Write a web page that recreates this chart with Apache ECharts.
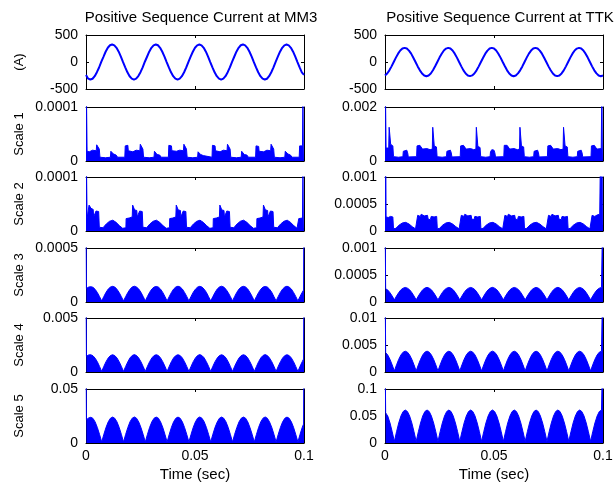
<!DOCTYPE html>
<html>
<head>
<meta charset="utf-8">
<script src="https://cdn.jsdelivr.net/npm/echarts@6/dist/echarts.min.js"></script>
<style>
  html, body { margin: 0; background: #fff; }
  #chart { width: 616px; height: 483px; }
</style>
</head>
<body>
<div id="chart"></div>
<script>
// panel titles and row labels
const titles = ['Positive Sequence Current at MM3', 'Positive Sequence Current at TTK'];
const rowNames = ['(A)', 'Scale 1', 'Scale 2', 'Scale 3', 'Scale 4', 'Scale 5'];

// y ranges [min, max, tick step] per row
const yRangeMM3 = [[-500, 500, 500], [0, 1e-4, 1e-4], [0, 1e-4, 1e-4], [0, 5e-4, 5e-4], [0, 5e-3, 5e-3], [0, 0.05, 0.05]];
const yRangeTTK = [[-500, 500, 500], [0, 2e-3, 2e-3], [0, 1e-3, 5e-4], [0, 1e-3, 5e-4], [0, 0.01, 0.005], [0, 0.1, 0.05]];

// sampling times (sec)
function sampleTimes(first, step, n) {
  const t = [];
  for (let i = 0; i < n; i++) t.push(+(first + step * i).toFixed(4));
  return t;
}
const tSine = sampleTimes(0, 0.001, 101);
const tArchMM3 = [0, ...sampleTimes(0.0002, 0.001, 100), 0.0998, 0.1];
const tArchTTK = [0, ...sampleTimes(0.0003, 0.001, 100), 0.0998, 0.1];

// positive sequence current (A), one value per ms
const currentMM3 = [
  -240, -309, -325, -310, -262, -188, -102, 4, 96, 190, 264, 310, 324, 308, 262, 192, 101, -3, -98, -192,
  -263, -307, -326, -309, -261, -189, -100, 5, 97, 191, 263, 309, 325, 310, 263, 190, 99, -2, -100, -191,
  -262, -309, -325, -308, -262, -190, -101, 3, 98, 190, 264, 309, 324, 309, 262, 191, 100, -2, -99, -192,
  -263, -308, -326, -309, -263, -189, -100, 4, 97, 191, 262, 310, 325, 308, 262, 190, 100, -3, -100, -190,
  -262, -309, -325, -310, -262, -190, -99, 3, 98, 191, 263, 309, 324, 309, 263, 191, 99, -2, -101, -191,
  -240
];
const currentTTK = [
  -249, -212, -154, -81, 0, 81, 154, 212, 249, 261, 249, 211, 155, 80, 1, -82, -154, -212, -250, -263,
  -249, -213, -153, -80, 1, 82, 153, 212, 248, 262, 249, 212, 154, 81, -1, -81, -155, -213, -249, -262,
  -248, -212, -154, -81, 0, 80, 154, 211, 249, 261, 250, 212, 153, 81, 0, -80, -154, -212, -249, -263,
  -249, -211, -154, -82, 1, 81, 155, 212, 249, 262, 249, 211, 154, 80, 0, -81, -153, -212, -250, -262,
  -249, -212, -155, -81, 0, 81, 154, 213, 248, 262, 249, 212, 154, 82, 1, -81, -154, -211, -249, -263,
  -249
];

// Scale 1 / Scale 2 detail magnitudes as [time, value], MM3 in 1e-5, TTK in 1e-4
const mm3Scale1 = [
  [0, 20], [0.0003, 20], [0.0005, 1.8], [0.0015, 1.7], [0.0030, 2.0], [0.0047, 1.9], [0.0049, 3.0], [0.0058, 3.1], [0.0061, 2.2], [0.0064, 0.7], [0.0090, 0.6], [0.0112, 0.7], [0.0114, 1.8], [0.0122, 1.9], [0.0126, 1.3], [0.0138, 1.1], [0.0145, 0.7], [0.0178, 0.7], [0.0180, 2.8], [0.0192, 2.9], [0.0194, 1.9],
  [0.0215, 1.7], [0.0230, 2.0], [0.0247, 1.9], [0.0249, 3.1], [0.0258, 3.1], [0.0261, 2.2], [0.0264, 0.7], [0.0290, 0.6], [0.0312, 0.7], [0.0314, 1.8], [0.0322, 1.8], [0.0326, 1.2], [0.0338, 1.1], [0.0345, 0.7], [0.0378, 0.7], [0.0380, 2.9], [0.0392, 2.8], [0.0394, 1.9],
  [0.0415, 1.8], [0.0430, 2.0], [0.0447, 1.9], [0.0449, 3.1], [0.0458, 3.2], [0.0461, 2.2], [0.0464, 0.7], [0.0490, 0.6], [0.0512, 0.7], [0.0514, 1.7], [0.0522, 1.8], [0.0526, 1.2], [0.0538, 1.0], [0.0545, 0.7], [0.0578, 0.7], [0.0580, 2.9], [0.0592, 2.8], [0.0594, 1.9],
  [0.0615, 1.7], [0.0630, 2.0], [0.0647, 1.9], [0.0649, 3.1], [0.0658, 3.2], [0.0661, 2.2], [0.0664, 0.7], [0.0690, 0.6], [0.0712, 0.7], [0.0714, 1.8], [0.0722, 1.8], [0.0726, 1.2], [0.0738, 1.1], [0.0745, 0.7], [0.0778, 0.7], [0.0780, 2.8], [0.0792, 2.7], [0.0794, 1.8],
  [0.0815, 1.7], [0.0830, 2.0], [0.0847, 1.9], [0.0849, 3.1], [0.0858, 3.1], [0.0861, 2.2], [0.0864, 0.7], [0.0890, 0.6], [0.0912, 0.7], [0.0914, 1.8], [0.0922, 1.9], [0.0926, 1.3], [0.0938, 1.1], [0.0945, 0.7], [0.0978, 0.7], [0.0980, 2.8], [0.0993, 2.8], [0.0996, 20], [0.1, 20]
];
const mm3Scale2 = [
  [0, 20], [0.0003, 20], [0.0005, 2.3], [0.0012, 2.5], [0.0014, 4.8], [0.0021, 4.8], [0.0023, 4.2], [0.0033, 4.0], [0.0035, 2.6], [0.0044, 2.6], [0.0046, 3.7], [0.0058, 3.6], [0.0061, 0.7], [0.0078, 0.6], [0.0093, 1.3], [0.0108, 1.8], [0.0123, 2.0], [0.0138, 1.6], [0.0153, 1.0], [0.0168, 0.5], [0.0183, 0.6],
  [0.0184, 2.3], [0.0198, 2.4], [0.0212, 2.6], [0.0214, 4.8], [0.0221, 4.8], [0.0223, 3.9], [0.0233, 3.8], [0.0235, 2.6], [0.0244, 2.6], [0.0246, 3.7], [0.0258, 3.6], [0.0261, 0.7], [0.0278, 0.6], [0.0293, 1.3], [0.0308, 1.8], [0.0323, 2.0], [0.0338, 1.6], [0.0353, 1.0], [0.0368, 0.5], [0.0383, 0.6],
  [0.0384, 2.3], [0.0398, 2.4], [0.0412, 2.6], [0.0414, 4.8], [0.0421, 4.7], [0.0423, 3.9], [0.0433, 3.8], [0.0435, 2.6], [0.0444, 2.6], [0.0446, 3.7], [0.0458, 3.6], [0.0461, 0.7], [0.0478, 0.6], [0.0493, 1.3], [0.0508, 1.8], [0.0523, 2.0], [0.0538, 1.6], [0.0553, 1.0], [0.0568, 0.5], [0.0583, 0.6],
  [0.0584, 2.3], [0.0598, 2.4], [0.0612, 2.6], [0.0614, 4.8], [0.0621, 4.8], [0.0623, 3.9], [0.0633, 3.8], [0.0635, 2.6], [0.0644, 2.6], [0.0646, 3.7], [0.0658, 3.6], [0.0661, 0.7], [0.0678, 0.6], [0.0693, 1.3], [0.0708, 1.8], [0.0723, 2.0], [0.0738, 1.6], [0.0753, 1.0], [0.0768, 0.5], [0.0783, 0.6],
  [0.0784, 2.3], [0.0798, 2.4], [0.0812, 2.6], [0.0814, 4.8], [0.0821, 4.8], [0.0823, 3.9], [0.0833, 3.8], [0.0835, 2.6], [0.0844, 2.6], [0.0846, 3.7], [0.0858, 3.6], [0.0861, 0.7], [0.0878, 0.6], [0.0893, 1.3], [0.0908, 1.8], [0.0923, 2.0], [0.0938, 1.6], [0.0953, 1.0], [0.0968, 0.5], [0.0975, 0.6],
  [0.0976, 2.3], [0.0993, 2.4], [0.0996, 20], [0.1, 20]
];
const ttkScale1 = [
  [0, 40], [0.0003, 40], [0.0005, 4.8], [0.0012, 4.6], [0.0017, 4.8], [0.0019, 12.5], [0.0024, 12.5], [0.0026, 6.2], [0.0036, 5.6], [0.0039, 1.6], [0.0062, 1.4], [0.0082, 1.6], [0.0084, 3.6], [0.0090, 4.2], [0.0100, 4.0], [0.0104, 3.0], [0.0107, 1.5], [0.0145, 1.6],
  [0.0147, 5.6], [0.0160, 5.8], [0.0169, 5.4], [0.0172, 4.4], [0.0192, 4.6], [0.0207, 4.2], [0.0217, 4.4], [0.0219, 12.5], [0.0224, 12.5], [0.0226, 5.6], [0.0236, 5.2], [0.0239, 1.6], [0.0262, 1.4], [0.0282, 1.6], [0.0284, 3.6], [0.0290, 4.2], [0.0300, 4.0], [0.0304, 3.0], [0.0307, 1.5], [0.0345, 1.6],
  [0.0347, 5.6], [0.0360, 5.8], [0.0369, 5.2], [0.0372, 4.4], [0.0392, 4.6], [0.0407, 4.2], [0.0417, 4.4], [0.0419, 12.5], [0.0424, 12.5], [0.0426, 5.4], [0.0436, 5.0], [0.0439, 1.6], [0.0462, 1.4], [0.0482, 1.6], [0.0484, 3.4], [0.0490, 4.2], [0.0500, 4.0], [0.0504, 3.0], [0.0507, 1.5], [0.0545, 1.6],
  [0.0547, 5.8], [0.0560, 5.8], [0.0569, 5.4], [0.0572, 4.4], [0.0592, 4.6], [0.0607, 4.2], [0.0617, 4.4], [0.0619, 12.5], [0.0624, 12.5], [0.0626, 5.6], [0.0636, 5.2], [0.0639, 1.6], [0.0662, 1.4], [0.0682, 1.6], [0.0684, 3.6], [0.0690, 4.2], [0.0700, 4.0], [0.0704, 3.0], [0.0707, 1.5], [0.0745, 1.6],
  [0.0747, 5.6], [0.0760, 5.8], [0.0769, 5.4], [0.0772, 4.4], [0.0792, 4.6], [0.0807, 4.2], [0.0817, 4.4], [0.0819, 12.5], [0.0824, 12.5], [0.0826, 5.6], [0.0836, 5.2], [0.0839, 1.6], [0.0862, 1.4], [0.0882, 1.6], [0.0884, 3.6], [0.0890, 4.2], [0.0900, 4.0], [0.0904, 3.0], [0.0907, 1.5], [0.0945, 1.6],
  [0.0947, 5.6], [0.0960, 5.8], [0.0969, 5.4], [0.0972, 4.4], [0.0992, 4.6], [0.0996, 40], [0.1, 40]
];
const ttkScale2 = [
  [0, 40], [0.0003, 40], [0.0005, 2.6], [0.0015, 2.5], [0.0025, 2.7], [0.0036, 2.6], [0.0039, 0.4], [0.0050, 0.5], [0.0065, 1.1], [0.0080, 1.5], [0.0095, 1.6], [0.0110, 1.3], [0.0125, 0.8], [0.0140, 0.4], [0.0147, 0.4],
  [0.0150, 2.9], [0.0158, 3.1], [0.0162, 2.7], [0.0166, 3.1], [0.0175, 3.0], [0.0180, 2.8], [0.0185, 3.1], [0.0195, 2.9], [0.0198, 2.2], [0.0208, 2.1], [0.0212, 2.7], [0.0225, 2.6], [0.0230, 2.8], [0.0237, 2.7], [0.0240, 0.4], [0.0250, 0.5], [0.0265, 1.1], [0.0280, 1.5], [0.0295, 1.6], [0.0310, 1.3], [0.0325, 0.8], [0.0340, 0.4], [0.0347, 0.4],
  [0.0350, 2.9], [0.0358, 3.1], [0.0362, 2.7], [0.0366, 3.1], [0.0375, 3.0], [0.0380, 2.8], [0.0385, 3.1], [0.0395, 2.9], [0.0398, 2.2], [0.0408, 2.1], [0.0412, 2.7], [0.0425, 2.6], [0.0430, 2.8], [0.0437, 2.7], [0.0440, 0.4], [0.0450, 0.5], [0.0465, 1.1], [0.0480, 1.5], [0.0495, 1.6], [0.0510, 1.3], [0.0525, 0.8], [0.0540, 0.4], [0.0547, 0.4],
  [0.0550, 2.9], [0.0558, 3.1], [0.0562, 2.7], [0.0566, 3.1], [0.0575, 3.0], [0.0580, 2.8], [0.0585, 3.1], [0.0595, 2.9], [0.0598, 2.2], [0.0608, 2.1], [0.0612, 2.7], [0.0625, 2.6], [0.0630, 2.8], [0.0637, 2.7], [0.0640, 0.4], [0.0650, 0.5], [0.0665, 1.1], [0.0680, 1.5], [0.0695, 1.6], [0.0710, 1.3], [0.0725, 0.8], [0.0740, 0.4], [0.0747, 0.4],
  [0.0750, 2.9], [0.0758, 3.1], [0.0762, 2.7], [0.0766, 3.1], [0.0775, 3.0], [0.0780, 2.8], [0.0785, 3.1], [0.0795, 2.9], [0.0798, 2.2], [0.0808, 2.1], [0.0812, 2.7], [0.0825, 2.6], [0.0830, 2.8], [0.0837, 2.7], [0.0840, 0.4], [0.0850, 0.5], [0.0865, 1.1], [0.0880, 1.5], [0.0895, 1.6], [0.0910, 1.3], [0.0925, 0.8], [0.0940, 0.4], [0.0947, 0.4],
  [0.0950, 2.9], [0.0958, 3.1], [0.0962, 2.7], [0.0966, 3.0], [0.0975, 3.0], [0.0980, 2.8], [0.0985, 3.1], [0.0993, 2.9], [0.0996, 40], [0.1, 40]
];

// Scale 3-5 detail magnitudes on tArchMM3 / tArchTTK
const mm3Scale3 = [ // x1e-4
  10,
  1.25, 1.38, 1.42, 1.36, 1.17, 0.88, 0.5,
  0.1, 0.52, 0.9, 1.2, 1.38, 1.45, 1.39, 1.18, 0.88, 0.5,
  0.1, 0.5, 0.88, 1.19, 1.39, 1.46, 1.38, 1.2, 0.9, 0.52,
  0.1, 0.52, 0.9, 1.2, 1.38, 1.44, 1.38, 1.19, 0.89, 0.51,
  0.1, 0.51, 0.89, 1.2, 1.39, 1.46, 1.39, 1.2, 0.89, 0.52,
  0.1, 0.52, 0.9, 1.19, 1.38, 1.45, 1.38, 1.19, 0.9, 0.5,
  0.1, 0.5, 0.89, 1.2, 1.39, 1.46, 1.38, 1.18, 0.88, 0.51,
  0.1, 0.52, 0.9, 1.2, 1.38, 1.45, 1.39, 1.2, 0.89, 0.52,
  0.1, 0.51, 0.89, 1.19, 1.38, 1.44, 1.38, 1.19, 0.9, 0.5,
  0.1, 0.52, 0.9, 1.2, 1.39, 1.46, 1.38, 1.2, 0.89, 0.52,
  0.1, 0.52, 0.9,
  1.1, 10
];
const mm3Scale4 = [ // x1e-3
  10,
  1.45, 1.58, 1.6, 1.5, 1.28, 0.95, 0.52,
  0.05, 0.53, 0.96, 1.3, 1.52, 1.6, 1.52, 1.3, 0.96, 0.53,
  0.05, 0.52, 0.95, 1.31, 1.53, 1.61, 1.52, 1.29, 0.95, 0.52,
  0.05, 0.53, 0.96, 1.3, 1.52, 1.6, 1.53, 1.3, 0.96, 0.53,
  0.05, 0.53, 0.97, 1.31, 1.52, 1.6, 1.52, 1.3, 0.95, 0.52,
  0.05, 0.52, 0.96, 1.3, 1.53, 1.61, 1.52, 1.31, 0.96, 0.53,
  0.05, 0.53, 0.96, 1.29, 1.52, 1.6, 1.52, 1.3, 0.96, 0.52,
  0.05, 0.53, 0.95, 1.3, 1.52, 1.6, 1.53, 1.3, 0.95, 0.53,
  0.05, 0.52, 0.96, 1.31, 1.53, 1.61, 1.52, 1.29, 0.96, 0.53,
  0.05, 0.53, 0.96, 1.3, 1.52, 1.6, 1.52, 1.3, 0.96, 0.52,
  0.05, 0.53, 0.96,
  1.2, 10
];
const mm3Scale5 = [ // x1e-2
  10,
  2.15, 2.32, 2.38, 2.28, 1.95, 1.44, 0.8,
  0.1, 0.81, 1.45, 1.96, 2.29, 2.4, 2.29, 1.96, 1.45, 0.81,
  0.1, 0.8, 1.44, 1.97, 2.3, 2.41, 2.29, 1.95, 1.44, 0.8,
  0.1, 0.81, 1.45, 1.96, 2.29, 2.4, 2.3, 1.96, 1.45, 0.81,
  0.1, 0.81, 1.46, 1.97, 2.29, 2.4, 2.29, 1.96, 1.44, 0.8,
  0.1, 0.8, 1.45, 1.96, 2.3, 2.41, 2.29, 1.97, 1.45, 0.81,
  0.1, 0.81, 1.45, 1.95, 2.29, 2.4, 2.29, 1.96, 1.45, 0.8,
  0.1, 0.81, 1.44, 1.96, 2.29, 2.4, 2.3, 1.96, 1.44, 0.81,
  0.1, 0.8, 1.45, 1.97, 2.3, 2.41, 2.29, 1.95, 1.45, 0.81,
  0.1, 0.81, 1.45, 1.96, 2.29, 2.4, 2.29, 1.96, 1.45, 0.8,
  0.1, 0.81, 1.45,
  1.75, 10
];
const ttkScale3 = [ // x1e-4
  20,
  2.45, 2.2, 1.72, 1.1,
  0.4, 1.11, 1.75, 2.26, 2.56, 2.7, 2.56, 2.26, 1.75, 1.11,
  0.4, 1.1, 1.74, 2.27, 2.57, 2.71, 2.56, 2.25, 1.74, 1.1,
  0.4, 1.11, 1.75, 2.26, 2.56, 2.7, 2.57, 2.26, 1.75, 1.11,
  0.4, 1.11, 1.76, 2.27, 2.56, 2.7, 2.56, 2.26, 1.74, 1.1,
  0.4, 1.1, 1.75, 2.26, 2.57, 2.71, 2.56, 2.27, 1.75, 1.11,
  0.4, 1.11, 1.75, 2.25, 2.56, 2.7, 2.56, 2.26, 1.75, 1.1,
  0.4, 1.11, 1.74, 2.26, 2.56, 2.7, 2.57, 2.26, 1.74, 1.11,
  0.4, 1.1, 1.75, 2.27, 2.57, 2.71, 2.56, 2.25, 1.75, 1.11,
  0.4, 1.11, 1.75, 2.26, 2.56, 2.7, 2.56, 2.26, 1.75, 1.1,
  0.4, 1.11, 1.75, 2.26, 2.56, 2.7,
  2.65, 20
];
const ttkScale4 = [ // x1e-3
  20,
  3.6, 3.12, 2.33, 1.3,
  0.2, 1.33, 2.35, 3.15, 3.67, 3.85, 3.67, 3.15, 2.35, 1.33,
  0.2, 1.32, 2.34, 3.16, 3.68, 3.86, 3.67, 3.14, 2.34, 1.32,
  0.2, 1.33, 2.35, 3.15, 3.67, 3.85, 3.68, 3.15, 2.35, 1.33,
  0.2, 1.33, 2.36, 3.16, 3.67, 3.85, 3.67, 3.15, 2.34, 1.32,
  0.2, 1.32, 2.35, 3.15, 3.68, 3.86, 3.67, 3.16, 2.35, 1.33,
  0.2, 1.33, 2.35, 3.14, 3.67, 3.85, 3.67, 3.15, 2.35, 1.32,
  0.2, 1.33, 2.34, 3.15, 3.67, 3.85, 3.68, 3.15, 2.34, 1.33,
  0.2, 1.32, 2.35, 3.16, 3.68, 3.86, 3.67, 3.14, 2.35, 1.33,
  0.2, 1.33, 2.35, 3.15, 3.67, 3.85, 3.67, 3.15, 2.35, 1.32,
  0.2, 1.33, 2.35, 3.15, 3.67, 3.85,
  3.8, 20
];
const ttkScale5 = [ // x1e-2
  20,
  5.6, 4.95, 3.7, 2.08,
  0.3, 2.09, 3.71, 4.99, 5.82, 6.1, 5.82, 4.99, 3.71, 2.09,
  0.3, 2.08, 3.7, 5.0, 5.83, 6.11, 5.82, 4.98, 3.7, 2.08,
  0.3, 2.09, 3.71, 4.99, 5.82, 6.1, 5.83, 4.99, 3.71, 2.09,
  0.3, 2.09, 3.72, 5.0, 5.82, 6.1, 5.82, 4.99, 3.7, 2.08,
  0.3, 2.08, 3.71, 4.99, 5.83, 6.11, 5.82, 5.0, 3.71, 2.09,
  0.3, 2.09, 3.71, 4.98, 5.82, 6.1, 5.82, 4.99, 3.71, 2.08,
  0.3, 2.09, 3.7, 4.99, 5.82, 6.1, 5.83, 4.99, 3.7, 2.09,
  0.3, 2.08, 3.71, 5.0, 5.83, 6.11, 5.82, 4.98, 3.71, 2.09,
  0.3, 2.09, 3.71, 4.99, 5.82, 6.1, 5.82, 4.99, 3.71, 2.08,
  0.3, 2.09, 3.71, 4.99, 5.82, 6.1,
  5.9, 20
];

const FONT = "'Liberation Sans', Arial, Helvetica, sans-serif";
const BLUE = '#0000ff';

function pairs(list, unit) {
  return list.map(p => [p[0], p[1] * unit]);
}
function onTimes(times, values, unit) {
  return times.map((t, i) => [t, values[i] * unit]);
}

const columns = [
  {
    left: 86, titleX: 201, ranges: yRangeMM3,
    data: [
      onTimes(tSine, currentMM3, 1),
      pairs(mm3Scale1, 1e-5),
      pairs(mm3Scale2, 1e-5),
      onTimes(tArchMM3, mm3Scale3, 1e-4),
      onTimes(tArchMM3, mm3Scale4, 1e-3),
      onTimes(tArchMM3, mm3Scale5, 1e-2)
    ]
  },
  {
    left: 385, titleX: 500, ranges: yRangeTTK,
    data: [
      onTimes(tSine, currentTTK, 1),
      pairs(ttkScale1, 1e-4),
      pairs(ttkScale2, 1e-4),
      onTimes(tArchTTK, ttkScale3, 1e-4),
      onTimes(tArchTTK, ttkScale4, 1e-3),
      onTimes(tArchTTK, ttkScale5, 1e-2)
    ]
  }
];

const rowTop = [35, 107, 177, 248, 318, 389];
const W = 218, H = 54;
const fmt = v => String(+v.toFixed(6));
const tickText = { color: '#000', fontSize: 14, fontFamily: FONT };
const nameText = { color: '#000', fontSize: 13, fontFamily: FONT };
const xNameText = { color: '#000', fontSize: 15, fontFamily: FONT };
const blackLine = { show: true, onZero: false, lineStyle: { color: '#000', width: 1 } };
const tick = { show: true, inside: true, length: 3, lineStyle: { color: '#000', width: 1 } };

const grid = [], xAxis = [], yAxis = [], series = [];

columns.forEach((col, c) => {
  col.data.forEach((data, r) => {
    const g = grid.length;
    const [ymin, ymax, ystep] = col.ranges[r];
    const last = r === rowTop.length - 1;
    grid.push({ left: col.left, top: rowTop[r], width: W, height: H });

    xAxis.push({
      gridIndex: g, type: 'value', position: 'bottom', min: 0, max: 0.1, interval: 0.05,
      axisLine: blackLine, axisTick: tick, splitLine: { show: false },
      axisLabel: Object.assign({ show: last, margin: 6, formatter: fmt, showMinLabel: true, showMaxLabel: true }, tickText),
      name: last ? 'Time (sec)' : '', nameLocation: 'middle', nameGap: 24,
      nameTextStyle: xNameText
    });
    xAxis.push({
      gridIndex: g, type: 'value', position: 'top', min: 0, max: 0.1, interval: 0.05,
      axisLine: blackLine, axisTick: tick, splitLine: { show: false }, axisLabel: { show: false }
    });
    yAxis.push({
      gridIndex: g, type: 'value', position: 'left', min: ymin, max: ymax, interval: ystep,
      axisLine: blackLine, axisTick: tick, splitLine: { show: false },
      axisLabel: Object.assign({ margin: 8, formatter: fmt, showMinLabel: true, showMaxLabel: true }, tickText),
      name: c === 0 ? rowNames[r] : '', nameLocation: 'middle', nameRotate: 90, nameGap: 60,
      nameTextStyle: nameText
    });
    yAxis.push({
      gridIndex: g, type: 'value', position: 'right', min: ymin, max: ymax, interval: ystep,
      axisLine: blackLine, axisTick: tick, splitLine: { show: false }, axisLabel: { show: false }
    });

    const s = {
      type: 'line', xAxisIndex: 2 * g, yAxisIndex: 2 * g, data: data,
      showSymbol: false, symbol: 'none', clip: true, silent: true,
      lineStyle: { color: BLUE, width: r === 0 ? 2 : 1 }
    };
    if (r > 0) s.areaStyle = { color: BLUE, opacity: 1 };
    series.push(s);
  });
});

const chart = echarts.init(document.getElementById('chart'), null, { renderer: 'canvas' });
chart.setOption({
  backgroundColor: '#fff',
  animation: false,
  graphic: columns.map((col, c) => ({
    type: 'text', x: col.titleX, y: 18,
    style: {
      text: titles[c], fill: '#000', font: '15px ' + FONT,
      align: 'center', verticalAlign: 'middle', textAlign: 'center', textVerticalAlign: 'middle'
    }
  })),
  grid: grid,
  xAxis: xAxis,
  yAxis: yAxis,
  series: series
});
</script>
</body>
</html>
